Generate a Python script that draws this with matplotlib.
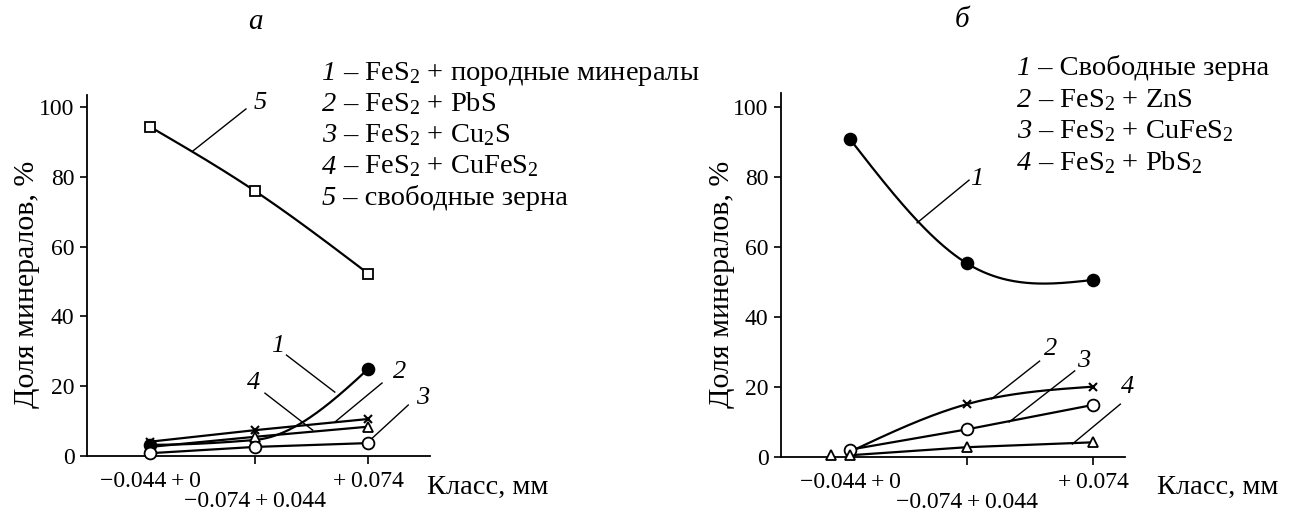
import numpy as np
import matplotlib
matplotlib.use("Agg")
import matplotlib.pyplot as plt

plt.rcParams['font.family'] = ['Liberation Serif', 'DejaVu Serif']
plt.rcParams['mathtext.fontset'] = 'custom'
plt.rcParams['mathtext.rm'] = 'Liberation Serif'
plt.rcParams['mathtext.it'] = 'Liberation Serif:italic'

# ---------------- data ----------------
classes = ["\u22120.044\u2009+\u20090", "\u22120.074\u2009+\u20090.044", "+\u20090.074"]
x_pos = [0.0, 1.0, 2.08]          # positions of the size classes on the x axis

# panel a
a_s1 = [3.2, 4.6, 25.0]    # FeS2 + породные минералы
a_s2 = [4.1, 7.4, 10.6]    # FeS2 + PbS
a_s3 = [0.8, 2.6, 3.7]     # FeS2 + Cu2S
a_s4 = [2.6, 5.5, 8.4]     # FeS2 + CuFeS2
a_s5 = [94.3, 75.9, 52.2]  # свободные зерна

# panel б
b_s1 = [90.8, 55.3, 50.6]  # Свободные зерна
b_s2 = [1.5, 15.1, 20.1]   # FeS2 + ZnS
b_s3 = [2.1, 7.9, 14.9]    # FeS2 + CuFeS2
b_s4 = [0.5, 2.8, 4.2]     # FeS2 + PbS2
b_s4_extra_x = [-0.16]
b_s4_extra_y = [0.5]

legend_a_num = ["1", "2", "3", "4", "5"]
legend_a = [r" – FeS$_\mathrm{2}$ + породные минералы",
            r" – FeS$_\mathrm{2}$ + PbS",
            r" – FeS$_\mathrm{2}$ + Cu$_\mathrm{2}$S",
            r" – FeS$_\mathrm{2}$ + CuFeS$_\mathrm{2}$",
            r" – свободные зерна"]
legend_b_num = ["1", "2", "3", "4"]
legend_b = [r" – Свободные зерна",
            r" – FeS$_\mathrm{2}$ + ZnS",
            r" – FeS$_\mathrm{2}$ + CuFeS$_\mathrm{2}$",
            r" – FeS$_\mathrm{2}$ + PbS$_\mathrm{2}$"]

ylabel = "Доля минералов, %"
xlabel = "Класс, мм"


# ---------------- interpolation helpers ----------------
def natural_spline(x, y, n=200):
    x = np.asarray(x, float); y = np.asarray(y, float)
    k = len(x); h = np.diff(x)
    A = np.zeros((k, k)); r = np.zeros(k)
    A[0, 0] = 1; A[-1, -1] = 1
    for i in range(1, k - 1):
        A[i, i - 1] = h[i - 1]; A[i, i] = 2 * (h[i - 1] + h[i]); A[i, i + 1] = h[i]
        r[i] = 6 * ((y[i + 1] - y[i]) / h[i] - (y[i] - y[i - 1]) / h[i - 1])
    M = np.linalg.solve(A, r)
    xs = np.linspace(x[0], x[-1], n); ys = np.empty_like(xs)
    for j, t in enumerate(xs):
        i = min(np.searchsorted(x, t, side='right') - 1, k - 2)
        a, b = x[i], x[i + 1]; hh = b - a
        ys[j] = (M[i] * (b - t) ** 3 / (6 * hh) + M[i + 1] * (t - a) ** 3 / (6 * hh)
                 + (y[i] / hh - M[i] * hh / 6) * (b - t) + (y[i + 1] / hh - M[i + 1] * hh / 6) * (t - a))
    return xs, ys


def pchip(x, y, n=200):
    x = np.asarray(x, float); y = np.asarray(y, float)
    h = np.diff(x); d = np.diff(y) / h; k = len(x)
    m = np.zeros(k)
    for i in range(1, k - 1):
        if d[i - 1] * d[i] > 0:
            w1 = 2 * h[i] + h[i - 1]; w2 = h[i] + 2 * h[i - 1]
            m[i] = (w1 + w2) / (w1 / d[i - 1] + w2 / d[i])
    def endpt(h0, h1, d0, d1):
        v = ((2 * h0 + h1) * d0 - h0 * d1) / (h0 + h1)
        if np.sign(v) != np.sign(d0):
            v = 0.0
        elif np.sign(d0) != np.sign(d1) and abs(v) > abs(3 * d0):
            v = 3 * d0
        return v
    m[0] = endpt(h[0], h[1], d[0], d[1]); m[-1] = endpt(h[-1], h[-2], d[-1], d[-2])
    xs = np.linspace(x[0], x[-1], n); ys = np.empty_like(xs)
    for j, t in enumerate(xs):
        i = min(np.searchsorted(x, t, side='right') - 1, k - 2)
        hh = h[i]; s = (t - x[i]) / hh
        h00 = 2 * s ** 3 - 3 * s ** 2 + 1; h10 = s ** 3 - 2 * s ** 2 + s
        h01 = -2 * s ** 3 + 3 * s ** 2; h11 = s ** 3 - s ** 2
        ys[j] = h00 * y[i] + h10 * hh * m[i] + h01 * y[i + 1] + h11 * hh * m[i + 1]
    return xs, ys


# ---------------- figure ----------------
W, H = 1290, 511
fig = plt.figure(figsize=(12.9, 5.11), dpi=100)
axA = fig.add_axes([87 / W, 1 - 456 / H, (430 - 87) / W, (456 - 95) / H])
axB = fig.add_axes([781 / W, 1 - 457 / H, (1125 - 781) / W, (457 - 93) / H])

LW = 1.6
MS = 8
FS = 20.5
TFS = 17
NFS = 19


def series(ax, xs, ys, marker, fill, smooth=None, ms=MS, markevery=None, mew=1.3):
    if smooth is None:
        ax.plot(xs, ys, '-', color='black', lw=LW, zorder=2)
    else:
        sx, sy = smooth(xs, ys)
        ax.plot(sx, sy, '-', color='black', lw=LW, zorder=2)
    idx = range(len(xs)) if markevery is None else markevery
    ax.plot([xs[i] for i in idx], [ys[i] for i in idx], linestyle='none', marker=marker,
            ms=ms, mfc=fill, mec='black', mew=mew, zorder=3)


# panel a
series(axA, x_pos, a_s5, 's', 'white', natural_spline, ms=6.5)
series(axA, x_pos, a_s2, 'x', 'black', ms=6, mew=1.5)
series(axA, x_pos, a_s4, '^', 'white', ms=7.5)
series(axA, x_pos, a_s1, 'o', 'black', pchip, ms=8.5, markevery=[0, 2])
series(axA, x_pos, a_s3, 'o', 'white', ms=8.5)

# panel б
series(axB, x_pos, b_s1, 'o', 'black', natural_spline, ms=8.5)
series(axB, x_pos, b_s2, 'x', 'black', natural_spline, ms=6, mew=1.5)
series(axB, x_pos, b_s3, 'o', 'white', ms=8.5)
series(axB, x_pos, b_s4, '^', 'white', ms=7.5)
axB.plot(b_s4_extra_x, b_s4_extra_y, linestyle='none', marker='^', ms=7.5, mfc='white',
         mec='black', mew=1.3, zorder=3, clip_on=False)

for ax, xl, yl in [(axA, (-0.6, 2.667), (0, 103.4)), (axB, (-0.59, 2.35), (0, 104))]:
    ax.set_xlim(*xl); ax.set_ylim(*yl)
    for s in ('top', 'right'):
        ax.spines[s].set_visible(False)
    for s in ('left', 'bottom'):
        ax.spines[s].set_linewidth(1.3)
    ax.set_yticks([0, 20, 40, 60, 80, 100])
    ax.tick_params(axis='y', direction='out', length=5, width=1.2, labelsize=TFS, pad=4)
    ax.set_xticks(x_pos)
    ax.set_xticklabels(classes)
    ax.tick_params(axis='x', direction='out', length=6, width=1.2, labelsize=TFS, pad=4.5)
    ticks = ax.xaxis.get_major_ticks()
    ticks[0].tick1line.set_visible(False)
    ticks[1].set_pad(19)
    for c in ax.get_children():
        try:
            c.set_clip_on(False)
        except Exception:
            pass


# leader lines with curve numbers
def lead(ax, num, txt_xy, p0, p1):
    ax.plot([p0[0], p1[0]], [p0[1], p1[1]], color='black', lw=1.0, zorder=1.5, clip_on=False)
    ax.text(txt_xy[0], txt_xy[1], num, fontsize=NFS, style='italic', ha='center', va='center')


lead(axA, '5', (1.05, 101.0), (0.914, 99.4), (0.41, 87.4))
lead(axA, '1', (1.22, 31.5), (1.30, 28.9), (1.76, 18.3))
lead(axA, '4', (0.99, 21.0), (1.095, 18.0), (1.55, 7.4))
lead(axA, '2', (2.38, 24.0), (2.21, 20.9), (1.76, 9.7))
lead(axA, '3', (2.60, 16.6), (2.46, 14.6), (2.12, 5.2))

lead(axB, '1', (1.085, 79.5), (1.017, 79.1), (0.573, 66.9))
lead(axB, '2', (1.71, 31.0), (1.62, 27.4), (1.21, 16.6))
lead(axB, '3', (2.00, 27.5), (1.92, 24.6), (1.36, 10.0))
lead(axB, '4', (2.37, 20.0), (2.31, 15.1), (1.90, 3.7))

# titles
fig.text(255 / W, 1 - 22 / H, 'а', fontsize=21, style='italic', ha='center', va='center')
fig.text(962 / W, 1 - 20 / H, 'б', fontsize=21, style='italic', ha='center', va='center')


# legends as text blocks (italic number + rest of line)
def legend_line(x_px, y_px, num, rest):
    yb = 1 - y_px / H
    t = fig.text(x_px / W, yb, num, fontsize=FS, style='italic', ha='left', va='baseline')
    fig.text(0, 0, '')
    ann = plt.annotate(rest, xy=(1, yb), xycoords=(t, 'figure fraction'),
                       fontsize=FS, ha='left', va='baseline', annotation_clip=False)
    return ann


for i, (n, s) in enumerate(zip(legend_a_num, legend_a)):
    legend_line(322, 80 + 31.2 * i, n, s)
for i, (n, s) in enumerate(zip(legend_b_num, legend_b)):
    legend_line(1017, 75 + 31.6 * i, n, s)

# axis labels
fig.text(27 / W, 1 - 284 / H, ylabel, rotation=90, fontsize=21.5, ha='center', va='center')
fig.text(722 / W, 1 - 284 / H, ylabel, rotation=90, fontsize=21.5, ha='center', va='center')
fig.text(427 / W, 1 - 487 / H, xlabel, fontsize=20.5, ha='left', va='center')
fig.text(1157 / W, 1 - 487 / H, xlabel, fontsize=20.5, ha='left', va='center')

fig.savefig("out.png", dpi=100)
